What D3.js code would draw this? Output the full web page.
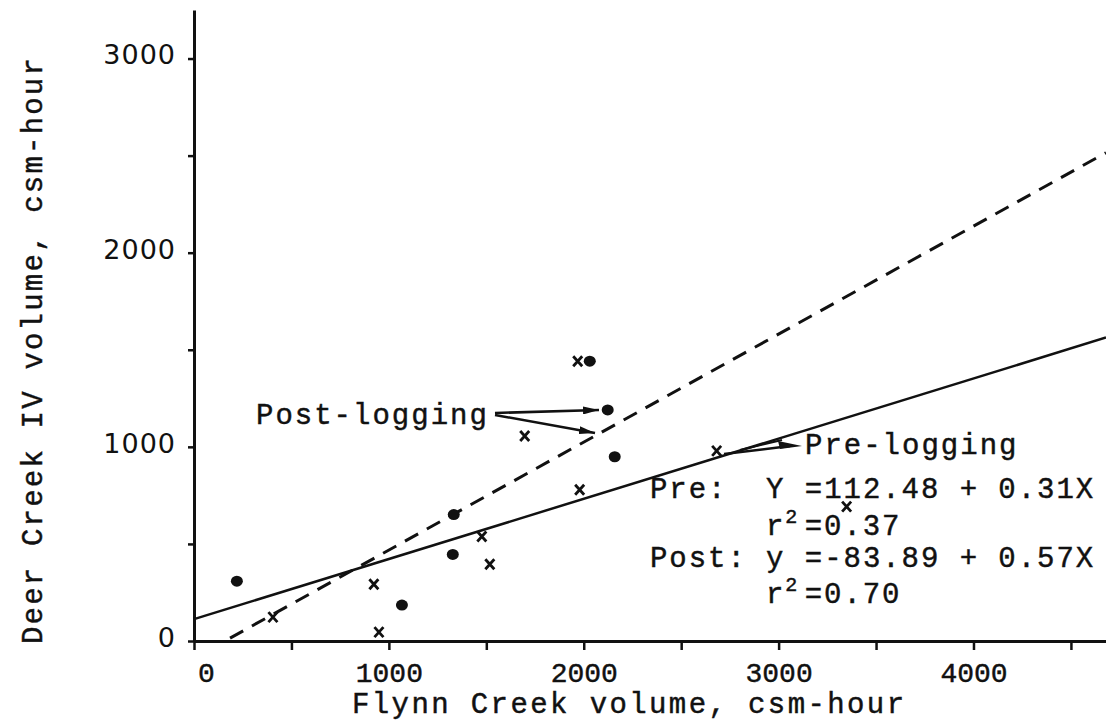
<!DOCTYPE html>
<html>
<head>
<meta charset="utf-8">
<script src="https://cdn.jsdelivr.net/npm/d3@7"></script>
<style>
  html, body { margin: 0; padding: 0; background: #fff; }
  svg { display: block; }
  .mono { font-family: "Liberation Mono", "DejaVu Sans Mono", monospace; fill: #111; stroke: #111; stroke-width: 0.45; }
  .pre { white-space: pre; }
</style>
</head>
<body>
<svg id="chart" width="1106" height="721"></svg>
<script>
// post-logging storms (dots)
var postX = [220, 1067, 1328, 1333, 2031, 2123, 2159];
var postY = [308, 185, 446, 651, 1441, 1190, 949];
// pre-logging storms (x marks)
var preX = [405, 923, 949, 1477, 1518, 1697, 1969, 1979, 2682, 3349];
var preY = [123, 292, 46, 538, 395, 1056, 1441, 779, 979, 692];
// fitted lines, end points
var preLineX = [0, 4680];
var preLineY = [112.48, 1563];
var postLineX = [185, 4680];
var postLineY = [15, 2515];
var xTicks = [0, 500, 1000, 1500, 2000, 2500, 3000, 3500, 4000, 4500];
var yTicks = [0, 500, 1000, 1500, 2000, 2500, 3000];
var xLabel = "Flynn Creek volume, csm-hour";
var yLabel = "Deer Creek IV volume, csm-hour";

var svg = d3.select("#chart");
var x = d3.scaleLinear().domain([0, 4680]).range([194, 1106]);
var y = d3.scaleLinear().domain([0, 3250]).range([641, 10]);

// axes
var xAxis = d3.axisBottom(x).tickValues(xTicks).tickSize(9).tickSizeOuter(0)
    .tickFormat(function (d) { return d % 1000 === 0 ? d : ""; });
var gx = svg.append("g").attr("transform", "translate(0," + y(0) + ")").call(xAxis);
gx.select(".domain").attr("stroke-width", 3).attr("stroke", "#111");
gx.selectAll(".tick line").attr("stroke-width", 2.5).attr("stroke", "#111");
gx.selectAll(".tick text").attr("class", "mono").attr("font-size", 28)
    .attr("y", 41).attr("dy", null).attr("dx", function (d) { return d === 0 ? 12 : 0; });

var yAxis = d3.axisLeft(y).tickValues(yTicks).tickSize(6).tickSizeOuter(0)
    .tickFormat(function (d) { return d % 1000 === 0 ? d : ""; });
var gy = svg.append("g").attr("transform", "translate(" + x(0) + ",0)").call(yAxis);
gy.select(".domain").attr("stroke-width", 3).attr("stroke", "#111");
gy.selectAll(".tick line").attr("stroke-width", 2.5).attr("stroke", "#111");
gy.selectAll(".tick text").attr("font-family", "DejaVu Sans").attr("font-size", 27)
    .attr("letter-spacing", 1).attr("fill", "#111").attr("x", -18).attr("dy", "0.2em");

// axis titles
svg.append("text").attr("class", "mono").attr("font-size", 29).attr("letter-spacing", 2.4)
    .attr("x", 352).attr("y", 713).text(xLabel);
svg.append("text").attr("class", "mono").attr("font-size", 29).attr("letter-spacing", 2.2)
    .attr("text-anchor", "middle")
    .attr("transform", "translate(42,350) rotate(-90)").text(yLabel);

// regression lines
var line = d3.line().x(function (d) { return x(d[0]); }).y(function (d) { return y(d[1]); });
svg.append("path").datum(d3.zip(preLineX, preLineY)).attr("d", line)
    .attr("fill", "none").attr("stroke", "#111").attr("stroke-width", 2.5);
svg.append("path").datum(d3.zip(postLineX, postLineY)).attr("d", line)
    .attr("fill", "none").attr("stroke", "#111").attr("stroke-width", 3)
    .attr("stroke-dasharray", "15,10");

// points
svg.selectAll(".dot").data(d3.zip(postX, postY)).enter().append("ellipse")
    .attr("class", "dot")
    .attr("cx", function (d) { return x(d[0]); })
    .attr("cy", function (d) { return y(d[1]); })
    .attr("rx", 6).attr("ry", 5.5).attr("fill", "#111");
svg.selectAll(".cross").data(d3.zip(preX, preY)).enter().append("path")
    .attr("class", "cross")
    .attr("transform", function (d) { return "translate(" + x(d[0]) + "," + y(d[1]) + ")"; })
    .attr("d", "M-4.5,-5L4.5,5M4.5,-5L-4.5,5")
    .attr("stroke", "#111").attr("stroke-width", 2.8).attr("fill", "none");

// arrows
svg.append("defs").append("marker").attr("id", "head")
    .attr("viewBox", "0 0 16 8").attr("refX", 16).attr("refY", 4)
    .attr("markerWidth", 16).attr("markerHeight", 8).attr("markerUnits", "userSpaceOnUse")
    .attr("orient", "auto")
    .append("path").attr("d", "M0,0L16,4L0,8Z").attr("fill", "#111");

function arrow(x1, y1, x2, y2) {
  svg.append("line").attr("x1", x1).attr("y1", y1).attr("x2", x2).attr("y2", y2)
      .attr("stroke", "#111").attr("stroke-width", 2.5).attr("marker-end", "url(#head)");
}

svg.append("text").attr("class", "mono").attr("font-size", 29).attr("letter-spacing", 2)
    .attr("x", 256).attr("y", 424).text("Post-logging");
arrow(495, 413, 599, 410);
arrow(495, 415, 595, 433);

svg.append("text").attr("class", "mono").attr("font-size", 29).attr("letter-spacing", 2)
    .attr("x", 805).attr("y", 454).text("Pre-logging");
svg.append("line").attr("x1", 724).attr("y1", 454).attr("x2", 790).attr("y2", 446)
    .attr("stroke", "#111").attr("stroke-width", 2.5);
svg.append("line").attr("x1", 740).attr("y1", 450).attr("x2", 782).attr("y2", 440)
    .attr("stroke", "#111").attr("stroke-width", 2);
svg.append("path").attr("d", "M778,441L802,446L780,449Z").attr("fill", "#111");

// equations
function eqn(txt, yb) {
  svg.append("text").attr("class", "mono pre").attr("font-size", 29).attr("letter-spacing", 1.95)
      .attr("x", 650).attr("y", yb).text(txt);
}
function rsq(val, yb) {
  var t = svg.append("text").attr("class", "mono").attr("font-size", 29).attr("letter-spacing", 1.95)
      .attr("x", 766).attr("y", yb);
  t.append("tspan").text("r");
  t.append("tspan").attr("font-size", 20).attr("dy", -12).text("2");
  t.append("tspan").attr("x", 766 + 2 * 19.35).attr("dy", 12).text("=" + val);
}
eqn("Pre:  Y =112.48 + 0.31X", 498);
rsq("0.37", 535);
eqn("Post: y =-83.89 + 0.57X", 567);
rsq("0.70", 603);
</script>
</body>
</html>
